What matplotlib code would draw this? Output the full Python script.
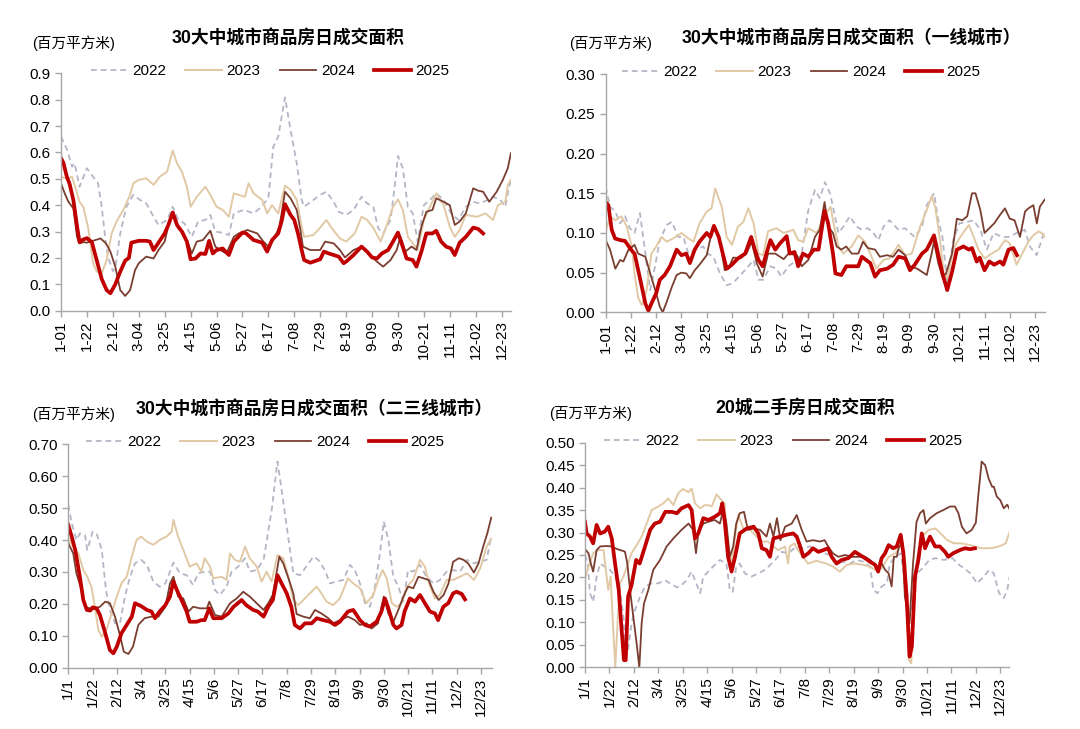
import matplotlib
matplotlib.use("Agg")
import matplotlib.pyplot as plt
from matplotlib.ticker import FormatStrFormatter

plt.rcParams['font.family'] = ['Liberation Sans', 'Noto Sans CJK SC', 'DejaVu Sans']

W, H = 1080, 729

# x tick labels (every 21 days from Jan 1)
labels_dash = ['1-01', '1-22', '2-12', '3-04', '3-25', '4-15', '5-06', '5-27', '6-17',
               '7-08', '7-29', '8-19', '9-09', '9-30', '10-21', '11-11', '12-02', '12-23']
labels_slash = ['1/1', '1/22', '2/12', '3/4', '3/25', '4/15', '5/6', '5/27', '6/17',
                '7/8', '7/29', '8/19', '9/9', '9/30', '10/21', '11/11', '12/2', '12/23']
years = ['2022', '2023', '2024', '2025']

# ---- chart 1: 30 cities, all (day of year, value) ----
c1_2022 = [(0, .66), (5, .609), (9, .546), (11, .559), (15, .47), (21, .54), (25, .514), (30, .483),
           (33, .394), (36, .268), (38, .205), (42, .15), (44, .16), (48, .293), (53, .394), (58.6, .439),
           (64, .42), (69, .407), (75, .356), (79, .325), (86, .344), (90.5, .394), (95, .344), (100, .331),
           (106, .28), (111, .338), (117, .344), (121, .363), (125, .30), (130, .296), (136, .287),
           (140, .369), (148, .382), (156, .369), (161, .388), (168, .426), (172, .622), (176, .66),
           (181.5, .809), (186, .685), (191, .559), (195, .42), (197, .394), (204.6, .42), (210, .439),
           (215, .451), (221, .413), (225, .375), (231, .363), (237, .382), (243.5, .432), (248, .407),
           (253, .394), (257, .312), (261, .293), (267, .344), (271, .496), (273, .587), (277, .54),
           (281, .394), (285, .369), (289, .262), (294, .40), (299, .42), (304, .445), (310, .42),
           (316, .369), (322, .344), (328, .394), (334, .413), (339, .407), (346, .42), (350, .432),
           (356, .42), (360, .394), (362, .445), (364.5, .496)]
c1_2023 = [(0, .508), (4.6, .50), (9, .508), (13, .445), (15, .413), (18, .394), (22, .315), (26, .18),
           (29, .148), (33, .142), (37, .192), (41, .293), (45, .338), (50.5, .382), (56, .439),
           (58.6, .483), (63, .496), (69, .502), (75, .477), (80, .508), (86, .527), (90.5, .607),
           (94, .559), (98, .527), (102, .47), (105, .394), (110, .432), (117, .47), (121, .439),
           (126, .394), (131, .382), (136, .356), (140, .445), (144, .439), (149, .432), (152, .483),
           (156, .445), (163, .42), (167, .369), (171, .40), (176, .369), (181.5, .474), (186, .458),
           (191, .42), (195, .318), (197, .28), (204.6, .287), (210, .315), (215, .344), (219, .315),
           (226, .274), (231, .262), (238, .293), (243.5, .356), (248, .344), (253, .315), (259, .262),
           (264, .325), (269, .394), (273, .422), (277, .382), (281, .28), (287, .243), (289, .23),
           (294, .344), (299, .394), (304, .445), (310, .40), (315, .318), (319, .28), (323, .306),
           (328, .363), (337, .356), (344, .369), (350, .344), (354, .40), (360, .413), (362, .477),
           (364.5, .496)]
c1_2024 = [(0, .483), (3, .445), (6, .413), (10, .388), (13, .28), (15, .255), (18, .26), (21, .258),
           (26, .265), (32, .274), (36.5, .255), (40, .224), (44, .167), (48, .078), (52, .056),
           (56, .078), (60, .154), (63, .18), (69, .205), (75, .198), (79, .23), (84, .262), (88, .344),
           (91, .375), (95, .312), (99, .293), (103, .255), (106, .217), (110, .262), (115, .268),
           (121, .303), (125, .243), (129, .23), (134, .217), (140, .28), (144, .293), (151, .306),
           (159, .293), (164, .262), (168, .243), (172, .268), (177, .318), (181.5, .451), (186, .426),
           (191, .382), (194, .306), (196, .243), (202, .23), (210, .23), (214, .262), (221, .255),
           (226, .23), (230, .202), (237, .23), (243.5, .243), (250, .211), (256, .186), (261, .167),
           (267, .192), (272, .23), (275, .28), (279, .224), (284, .243), (288, .23), (292, .318),
           (296, .375), (301, .382), (304, .426), (310, .413), (315, .40), (319, .325), (323, .338),
           (328, .369), (334, .464), (338, .455), (342, .451), (347, .413), (353, .451), (358, .496),
           (362, .54), (364.5, .597)]
c1_2025 = [(0, .578), (2, .56), (4.6, .51), (7, .48), (10, .42), (13, .32), (15, .26), (18, .27),
           (21, .275), (25, .26), (29, .19), (33, .12), (37, .078), (40, .066), (44, .10), (48, .148),
           (52, .19), (55, .20), (57, .258), (63, .265), (69, .265), (72, .262), (75, .23), (79, .258),
           (84, .293), (87, .325), (90.5, .372), (94, .325), (98, .30), (102, .262), (105, .195),
           (109, .198), (113, .217), (117, .215), (120, .265), (123, .217), (126, .23), (131, .236),
           (136, .211), (140, .262), (147, .296), (150, .293), (156, .268), (163, .258), (167, .224),
           (171, .268), (176, .293), (179, .344), (181.5, .404), (186, .363), (189, .344), (192, .293),
           (195, .23), (197, .192), (202, .182), (210, .195), (213, .224), (217, .217), (221, .211),
           (225, .205), (229, .18), (231, .186), (237, .211), (243.5, .243), (248, .224), (252, .202),
           (256, .198), (260, .217), (265, .23), (269, .262), (273, .296), (276, .255), (280, .198),
           (285, .192), (288, .167), (292, .224), (296, .293), (301, .293), (304, .303), (308, .262),
           (312, .243), (316, .236), (319, .211), (323, .258), (328, .28), (334, .315), (338, .31),
           (342, .293)]

# ---- chart 2: 30 cities, tier-1 ----
c2_2022 = [(0, .158), (3.6, .133), (8, .127), (12, .112), (16, .121), (20, .106), (24, .10), (28.5, .125),
           (33, .074), (37, .028), (41, .058), (45, .091), (50.7, .110), (55, .114), (60.4, .095),
           (64.6, .095), (68.7, .074), (75.7, .079), (81, .083), (85, .074), (89.5, .070), (95, .049),
           (100.6, .034), (106, .037), (112, .047), (117, .055), (123, .066), (127, .041), (131, .041),
           (137, .058), (142, .055), (146, .045), (152, .058), (159, .066), (163, .074), (168.5, .129),
           (174, .154), (178, .144), (182.4, .164), (186.5, .15), (189, .133), (193.5, .10),
           (197.6, .108), (203, .121), (208.7, .108), (213, .104), (218, .106), (222.6, .10),
           (226.7, .091), (231, .108), (236, .116), (243.5, .104), (249, .106), (253, .10), (257, .095),
           (263, .108), (267, .135), (273, .15), (276.6, .116), (280, .095), (284, .037), (289, .091),
           (294, .112), (300.6, .114), (306, .116), (311.5, .104), (317, .079), (322.6, .10),
           (329.5, .095), (336, .095), (341.6, .10), (348.5, .104), (352.7, .083), (358.3, .072),
           (362.5, .091), (365, .104)]
c2_2023 = [(0, .102), (3.6, .121), (8, .116), (13, .121), (17.5, .108), (21.6, .083), (24, .049),
           (27, .018), (30, .009), (34, .028), (38, .074), (42, .083), (46.5, .095), (50.7, .089),
           (56, .093), (63, .10), (67, .095), (73, .089), (78, .112), (84, .127), (88, .131), (91, .156),
           (96.5, .133), (100.6, .095), (105, .085), (110, .108), (114.5, .114), (118.6, .131),
           (123, .112), (127, .074), (131, .072), (135, .102), (142, .106), (148, .10), (156, .104),
           (160, .091), (164, .089), (168.5, .106), (175.5, .10), (182, .121), (187, .133), (189, .116),
           (193.5, .083), (197.6, .074), (204.6, .083), (210, .097), (215.6, .089), (220, .074),
           (225, .055), (231, .066), (236, .068), (243.5, .085), (249, .072), (254.5, .074),
           (261.5, .108), (267, .129), (271, .146), (274, .133), (278, .091), (281, .049), (284, .043),
           (289, .079), (294, .093), (299, .104), (302, .110), (306, .095), (310, .079), (315, .068),
           (321, .074), (326.6, .079), (332, .091), (336, .087), (341.6, .060), (345.7, .072),
           (351.5, .089), (355.6, .097), (360, .102), (362.5, .10), (365, .095)]
c2_2024 = [(0, .091), (3.6, .079), (8, .055), (12, .066), (14.7, .064), (19, .079), (24, .085), (27, .074),
           (33, .070), (37, .049), (42, .024), (45, .007), (47.4, .0), (50.7, .013), (55, .032),
           (59, .047), (63, .050), (67, .049), (70, .043), (74, .053), (78, .060), (84, .072), (88, .10),
           (91, .106), (95, .091), (99, .053), (102, .055), (106, .069), (112, .068), (117, .074),
           (121.4, .089), (125.6, .062), (130.5, .045), (135, .074), (141, .074), (148, .067),
           (152, .074), (159, .072), (163, .058), (168.5, .066), (174, .095), (178, .104), (182, .139),
           (185, .108), (189, .10), (192, .083), (196, .079), (200, .083), (204.6, .074), (210, .074),
           (214, .089), (218, .081), (224, .079), (228, .070), (234, .072), (239, .070), (243.5, .079),
           (249, .072), (253, .058), (259, .055), (267, .047), (271, .074), (273, .089), (276.6, .062),
           (280, .045), (283, .049), (288, .074), (292, .118), (296.5, .116), (300.6, .121),
           (304.6, .15), (307.5, .15), (311.5, .129), (315, .10), (319, .106), (323, .112), (328, .123),
           (332, .131), (336, .118), (340, .116), (344.5, .095), (348.7, .127), (351.5, .131),
           (355.6, .135), (358.5, .112), (361, .133), (365, .142)]
c2_2025 = [(0, .139), (2.2, .135), (5, .104), (7.8, .093), (12, .091), (16, .090), (21, .079), (24, .074),
           (28.5, .043), (33, .011), (35.5, .002), (38, .011), (42, .024), (45, .041), (49, .047),
           (53.5, .058), (59, .079), (63, .072), (67, .074), (70, .062), (74, .079), (78, .089),
           (84, .10), (87, .095), (90, .109), (94, .095), (98, .070), (100.6, .055), (105, .060),
           (110, .068), (116, .074), (121, .095), (124, .079), (127, .066), (130.5, .058), (137, .091),
           (141, .079), (145, .087), (150.5, .096), (153, .074), (157, .076), (160, .058), (164, .074),
           (168.5, .070), (173, .079), (177, .079), (182, .128), (185, .112), (189, .074), (191, .049),
           (196, .047), (200, .058), (210, .058), (213, .070), (220, .062), (224, .045), (228, .053),
           (234, .055), (239, .060), (243.5, .070), (249, .068), (253, .053), (257, .060), (263, .074),
           (267, .079), (273, .097), (276.6, .072), (280, .049), (284, .028), (288, .051), (292, .079),
           (297.5, .083), (302, .079), (304.6, .081), (308.5, .064), (311, .069), (315, .053),
           (319, .064), (323, .060), (328, .064), (330.6, .060), (335, .079), (339, .081), (342, .072)]

# ---- chart 3: 30 cities, tier-2/3 ----
c3_2022 = [(0, .51), (3, .452), (7, .40), (10, .421), (14.4, .416), (16.4, .369), (21, .426), (24.5, .421),
           (29, .369), (32.6, .243), (36, .181), (40.4, .139), (44.7, .139), (49, .223), (53.4, .285),
           (57.7, .327), (63, .338), (68, .322), (73.6, .27), (79, .254), (84, .264), (91, .329),
           (96.6, .296), (102.4, .29), (108, .259), (112.5, .296), (118, .301), (122.6, .301), (127, .243),
           (131, .228), (137, .254), (141.3, .301), (147, .317), (153, .343), (157, .301), (163, .306),
           (169, .338), (173, .426), (176, .494), (181, .646), (184.6, .557), (189, .442), (194.7, .296),
           (200.5, .29), (204.8, .311), (212, .348), (216.3, .338), (222, .306), (226.4, .264),
           (232, .27), (238, .275), (243.7, .322), (248, .306), (252.4, .264), (256.7, .202),
           (261, .191), (265.4, .254), (269.7, .358), (273, .458), (277, .40), (281.3, .285),
           (285.6, .254), (290, .207), (294, .306), (298.5, .301), (304.3, .322), (310, .285),
           (316, .264), (321.6, .275), (327.4, .301), (333, .306), (339, .301), (345, .338), (351, .327),
           (356.5, .332), (362, .338), (366, .411)]
c3_2023 = [(0, .405), (4.3, .379), (8.7, .358), (13, .306), (16.4, .285), (20, .254), (23, .191),
           (26, .118), (29, .097), (33, .118), (37.5, .170), (42, .223), (46, .264), (50.5, .285),
           (55, .348), (59, .40), (63, .411), (68, .395), (73.6, .385), (79, .40), (85, .411),
           (89.4, .426), (91, .463), (95, .411), (99.5, .369), (105, .317), (111, .327), (115, .301),
           (118, .343), (122.6, .317), (125.5, .28), (132.7, .285), (137, .275), (140, .358),
           (144, .338), (148.5, .332), (153, .379), (157, .343), (163, .317), (167.3, .27),
           (171.6, .301), (176, .27), (181, .353), (186, .343), (190.4, .285), (194.7, .212),
           (199, .196), (203.4, .212), (209, .233), (215, .254), (219, .233), (223.5, .207),
           (229.3, .196), (235, .217), (242, .28), (246.6, .264), (252.4, .249), (258, .202),
           (264, .228), (268.2, .275), (272, .306), (275.5, .28), (280, .202), (284, .191),
           (288.4, .202), (293, .254), (298.5, .275), (304.3, .338), (308.6, .317), (313, .254),
           (317.3, .217), (321.6, .228), (327.4, .275), (333, .275), (339, .285), (345, .296),
           (351, .275), (356.5, .311), (362, .379), (366, .405)]
c3_2024 = [(0, .39), (4.3, .358), (7, .296), (11.5, .243), (14.4, .191), (21, .183), (27.4, .191),
           (32, .207), (36, .202), (40.4, .16), (44.7, .102), (48, .05), (52, .043), (56, .066),
           (60.6, .134), (66, .155), (72, .16), (78, .16), (84, .191), (88, .264), (91, .285), (95, .223),
           (99.5, .217), (104, .176), (108, .191), (114, .186), (120, .186), (122, .207), (127, .165),
           (132.7, .16), (140, .202), (145.7, .217), (151.4, .238), (157, .223), (163, .202),
           (169, .181), (173, .202), (177, .228), (182.6, .348), (186, .327), (191, .275), (194.7, .233),
           (197.6, .168), (203.4, .16), (209, .155), (213.5, .181), (219, .170), (225, .155),
           (229.3, .139), (235, .149), (242, .16), (248, .149), (252.4, .134), (258, .139),
           (262.5, .123), (268, .139), (273, .223), (277, .170), (281.3, .144), (285.6, .181),
           (290, .223), (294, .254), (298.5, .249), (303, .285), (307.5, .28), (311.8, .275),
           (316, .238), (320.5, .212), (324.8, .228), (329, .264), (333, .332), (338, .343), (342, .338),
           (346, .327), (351, .298), (355, .327), (359, .379), (362.6, .421), (366, .47)]
c3_2025 = [(0, .447), (3, .41), (6, .369), (10, .285), (13, .212), (16, .181), (19, .179), (21, .189),
           (24.5, .186), (27.4, .165), (32, .108), (36, .055), (39, .045), (42, .066), (46, .108),
           (50.5, .134), (55, .160), (57.7, .202), (63, .193), (68, .181), (72, .176), (75, .155),
           (79, .176), (84, .196), (88, .223), (91, .27), (94, .243), (98, .212), (102.4, .176),
           (105, .144), (111, .144), (115, .149), (118, .149), (122, .186), (125.5, .155), (132.7, .155),
           (138.5, .170), (143, .191), (150, .212), (154, .196), (160, .181), (164, .176), (169, .160),
           (173, .191), (177, .212), (181, .29), (184.6, .264), (189, .233), (193, .191), (196, .134),
           (200.5, .123), (204.8, .139), (210.6, .139), (215, .155), (220.6, .149), (226.4, .144),
           (230.8, .134), (235, .144), (242, .176), (246.6, .181), (252.4, .149), (256.7, .134),
           (261, .129), (266.8, .144), (271, .176), (274, .217), (277, .186), (281.3, .134), (284, .123),
           (288.4, .134), (291, .176), (295.6, .217), (300, .207), (304.3, .228), (308.6, .202),
           (313, .176), (317.3, .170), (320, .149), (324.5, .191), (328.8, .202), (333, .233),
           (336, .238), (340.5, .231), (343.3, .214)]

# ---- chart 4: 20 cities, second-hand ----
c4_2022 = [(0, .25), (2.3, .231), (4.3, .165), (7, .146), (10, .202), (13, .231), (17, .224), (21.5, .217),
           (26, .202), (30, .172), (33, .113), (35, .024), (37, .039), (40, .098), (43, .128),
           (47.3, .157), (51.6, .18), (57.3, .187), (63, .187), (68.8, .194), (73, .187), (79, .178),
           (83, .183), (87.4, .194), (91.7, .213), (94.5, .194), (99, .165), (101.7, .202), (106, .213),
           (110, .224), (116, .239), (121.6, .231), (124.5, .172), (127, .168), (130, .224), (133, .231),
           (137.5, .209), (143, .202), (149, .209), (154.7, .217), (160.5, .231), (164.8, .243),
           (169, .257), (174.6, .254), (182, .269), (187.6, .265), (193.4, .269), (199, .261),
           (205, .254), (210.6, .25), (216.3, .231), (222, .235), (227.8, .231), (233.5, .239),
           (239.4, .235), (245, .224), (248, .172), (251.5, .165), (255, .18), (259.6, .187),
           (262, .231), (267, .246), (271.5, .254), (275.5, .172), (278.5, .098), (281, .142),
           (285.6, .209), (290, .22), (296, .239), (301.4, .243), (308.6, .239), (316, .243),
           (320, .231), (326, .22), (331.5, .209), (337, .187), (343, .202), (347.4, .217),
           (351.4, .209), (356, .165), (360, .154), (363, .172), (365, .202)]
c4_2023 = [(0, .198), (3, .224), (7, .254), (11.5, .261), (16, .261), (18.6, .202), (20, .172), (22, .202),
           (24, .098), (26, .0), (28, .098), (30, .187), (33, .202), (36, .224), (40, .254), (44.4, .272),
           (48.7, .291), (53, .32), (57.3, .35), (63, .358), (67.3, .365), (71.6, .376), (76, .361),
           (80, .387), (84, .397), (89, .39), (91.7, .398), (94.5, .365), (99, .354), (103, .361),
           (106, .361), (109, .358), (113, .385), (116, .376), (120, .365), (123, .261), (126, .231),
           (129, .291), (131.8, .339), (136, .309), (142, .306), (147.6, .291), (152, .28), (157.6, .28),
           (162, .269), (166, .261), (172, .269), (174.6, .231), (176, .269), (180, .276), (183, .261),
           (187.4, .246), (191.8, .231), (199, .237), (207.5, .231), (213.3, .224), (219, .213),
           (225, .228), (232, .231), (239.4, .228), (245, .224), (249.5, .217), (255, .22), (261, .246),
           (267, .254), (272.7, .276), (275.5, .231), (278.5, .016), (280.5, .009), (282.8, .172),
           (285.6, .246), (290, .291), (295.6, .306), (301.4, .309), (305.7, .298), (311.5, .283),
           (317.2, .276), (323, .276), (331.5, .272), (340, .265), (347.4, .265), (353, .267),
           (358.8, .272), (361.6, .276), (363.6, .291), (365, .302)]
c4_2024 = [(0, .263), (3, .254), (5, .231), (7, .213), (10, .261), (13, .269), (18.6, .27), (23, .269),
           (26, .265), (30, .261), (33, .259), (34.4, .257), (36.4, .231), (38.7, .172), (41.5, .113),
           (44.4, .053), (46.7, .0), (48.7, .098), (50.7, .142), (54.4, .172), (58.7, .217), (64.5, .239),
           (70.2, .269), (76, .287), (83, .306), (89, .32), (93, .306), (95.4, .254), (97.4, .298),
           (101.7, .32), (106, .324), (111.5, .328), (116, .320), (118.8, .35), (121.6, .32),
           (124.5, .246), (127.4, .269), (130, .32), (133, .343), (136.7, .346), (140, .306), (145, .309),
           (150.5, .306), (156, .291), (159, .320), (162, .291), (165, .332), (168, .283), (172, .313),
           (177.7, .320), (182, .339), (186.3, .306), (190.5, .28), (196, .283), (202, .28), (206, .283),
           (209, .269), (213, .254), (217.8, .246), (223.5, .25), (229.2, .246), (235, .246),
           (240.7, .246), (245, .239), (249.5, .228), (252, .22), (255, .231), (258, .217), (261, .209),
           (263.6, .18), (265.5, .246), (268, .246), (270, .269), (273, .276), (275, .157), (279, .098),
           (282, .231), (285, .324), (288, .343), (291, .35), (293, .32), (296.6, .332), (302.3, .343),
           (308, .35), (313.8, .358), (318, .358), (321, .343), (324, .313), (328, .298), (332.5, .306),
           (336, .322), (338, .38), (341, .458), (344, .45), (347, .42), (350, .402), (351.5, .402),
           (354, .38), (357, .372), (360, .354), (363, .362), (365, .352)]
c4_2025 = [(0, .324), (1.4, .298), (4.3, .291), (7, .276), (10, .317), (13, .298), (17, .302), (20, .313),
           (23, .287), (26, .228), (29, .172), (31.5, .083), (33.5, .016), (35, .016), (37, .157),
           (40, .183), (44, .239), (47, .231), (51.6, .269), (56, .306), (60, .320), (64.5, .324),
           (69, .346), (74.5, .346), (79, .343), (83, .354), (89, .361), (91.7, .35), (94.5, .287),
           (97.4, .298), (101.7, .332), (106, .328), (111.5, .335), (116, .343), (118, .365), (120, .328),
           (123, .246), (126, .213), (129, .246), (133, .298), (139, .309), (145, .313), (149, .298),
           (152, .265), (156, .261), (159, .246), (162, .287), (168, .291), (173, .295), (179, .298),
           (182, .291), (185, .269), (187.7, .246), (192, .254), (196, .265), (200.6, .257), (205, .261),
           (209, .265), (212, .246), (216.3, .231), (220.6, .239), (226.4, .243), (232, .257),
           (236.4, .25), (240.7, .243), (245, .235), (249.5, .228), (252, .213), (255, .243), (258, .254),
           (261, .272), (265, .265), (268, .269), (271.4, .295), (273.7, .254), (276.5, .157),
           (279, .024), (281, .046), (283.7, .202), (286.6, .239), (289.5, .298), (292.3, .265),
           (296.6, .291), (301, .269), (305, .269), (309.5, .257), (312.3, .246), (316.6, .254),
           (322.3, .261), (326.6, .265), (331, .263), (335.2, .265)]

colors = ['#B4B6C6', '#E2C9A5', '#7A3E30', '#C00000']
widths = [1.3, 1.4, 1.3, 2.7]
styles = [(0, (3.2, 2.2)), '-', '-', '-']

fig = plt.figure(figsize=(10.8, 7.29), dpi=100)


def make_axes(left, top, right, bottom):
    return fig.add_axes([left / W, 1 - bottom / H, (right - left) / W, (bottom - top) / H])


charts = [
    dict(box=(61, 73.3, 511, 310.7), xmax=364.6, ymax=0.9, step=0.1, fmt='%.1f',
         series=[c1_2022, c1_2023, c1_2024, c1_2025], labels=labels_dash,
         title='30大中城市商品房日成交面积', tx=288, ty=39, ux=32, uy=43, lx=270, ly=71),
    dict(box=(605.7, 74.3, 1045, 312.3), xmax=365.3, ymax=0.3, step=0.05, fmt='%.2f',
         series=[c2_2022, c2_2023, c2_2024, c2_2025], labels=labels_dash,
         title='30大中城市商品房日成交面积（一线城市）', tx=851, ty=39, ux=569, uy=43, lx=801, ly=72),
    dict(box=(68.3, 444.3, 491.7, 667.7), xmax=366.4, ymax=0.7, step=0.1, fmt='%.2f',
         series=[c3_2022, c3_2023, c3_2024, c3_2025], labels=labels_slash,
         title='30大中城市商品房日成交面积（二三线城市）', tx=314, ty=410, ux=32, uy=414, lx=265, ly=442),
    dict(box=(585, 442.7, 1009, 667.3), xmax=364.5, ymax=0.5, step=0.05, fmt='%.2f',
         series=[c4_2022, c4_2023, c4_2024, c4_2025], labels=labels_slash,
         title='20城二手房日成交面积', tx=805, ty=408, ux=549, uy=413, lx=783, ly=441),
]

for ch in charts:
    ax = make_axes(*ch['box'])
    handles = []
    for data, c, lw, ls, yr in zip(ch['series'], colors, widths, styles, years):
        xs = [p[0] for p in data]
        ys = [p[1] for p in data]
        h, = ax.plot(xs, ys, color=c, lw=lw, linestyle=ls, label=yr, solid_joinstyle='round')
        handles.append(h)
    ax.set_xlim(0, ch['xmax'])
    ax.set_ylim(0, ch['ymax'])
    n = int(round(ch['ymax'] / ch['step']))
    ax.set_yticks([i * ch['step'] for i in range(n + 1)])
    ax.yaxis.set_major_formatter(FormatStrFormatter(ch['fmt']))
    ax.set_xticks(list(range(0, 358, 21)))
    ax.set_xticklabels(ch['labels'], rotation=90)
    for s in ['top', 'right']:
        ax.spines[s].set_visible(False)
    for s in ['left', 'bottom']:
        ax.spines[s].set_color('#A6A6A6')
        ax.spines[s].set_linewidth(1.0)
    ax.tick_params(axis='both', colors='#A6A6A6', labelcolor='black', labelsize=11,
                   length=4, width=1.0, direction='out')
    ax.tick_params(axis='x', pad=3)
    ax.legend(handles=handles, loc='center', bbox_to_anchor=(ch['lx'] / W, 1 - ch['ly'] / H),
              bbox_transform=fig.transFigure, ncol=4, frameon=False, fontsize=11,
              handlelength=2.4, handletextpad=0.3, columnspacing=1.25, borderpad=0)
    fig.text(ch['tx'] / W, 1 - ch['ty'] / H, ch['title'], ha='center', va='center',
             fontsize=12.8, fontweight='bold')
    fig.text(ch['ux'] / W, 1 - ch['uy'] / H, '(百万平方米)', ha='left', va='center', fontsize=10.5)

fig.savefig('out.png', dpi=100)
